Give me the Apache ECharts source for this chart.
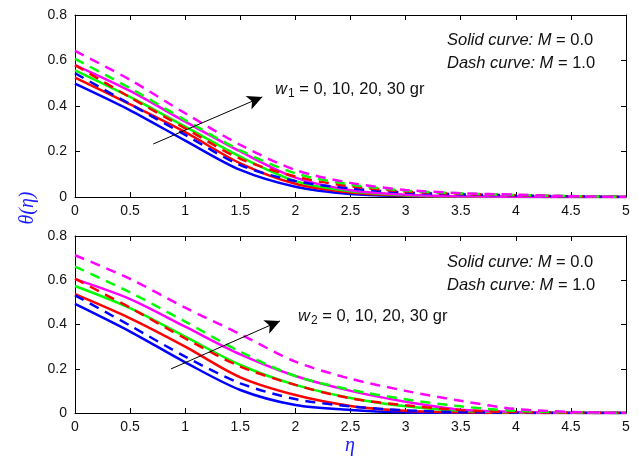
<!DOCTYPE html>
<html>
<head>
<meta charset="utf-8">
<script src="https://cdn.jsdelivr.net/npm/echarts@6/dist/echarts.min.js"></script>
<style>html,body{margin:0;padding:0;background:#fff;}#c{width:639px;height:459px;}</style>
</head>
<body>
<div id="c"></div>
<script>
const eta = [0, 0.5, 1, 1.5, 2, 2.5, 3, 3.5, 4, 4.5, 5];
const xTicks = ['0','0.5','1','1.5','2','2.5','3','3.5','4','4.5','5'];
const yTicks = ['0','0.2','0.4','0.6','0.8'];
const wLabels = ['0','10','20','30'];

// Top panel (w1), solid: M = 0.0
const topSolid0  = [0.498, 0.381, 0.248, 0.119, 0.045, 0.013, 0.004, 0.001, 0, 0, 0];
const topSolid10 = [0.525, 0.407, 0.285, 0.148, 0.058, 0.020, 0.006, 0.002, 0.001, 0, 0];
const topSolid20 = [0.557, 0.440, 0.309, 0.177, 0.070, 0.025, 0.008, 0.003, 0.001, 0, 0];
const topSolid30 = [0.580, 0.466, 0.331, 0.200, 0.085, 0.030, 0.010, 0.003, 0.001, 0, 0];
// Top panel, dashed: M = 1.0
const topDash0  = [0.544, 0.408, 0.273, 0.140, 0.070, 0.038, 0.020, 0.012, 0.007, 0.003, 0];
const topDash10 = [0.580, 0.438, 0.302, 0.168, 0.090, 0.047, 0.024, 0.014, 0.008, 0.003, 0];
const topDash20 = [0.607, 0.478, 0.338, 0.205, 0.104, 0.055, 0.028, 0.016, 0.009, 0.004, 0];
const topDash30 = [0.642, 0.515, 0.368, 0.229, 0.119, 0.062, 0.031, 0.017, 0.010, 0.004, 0];

// Bottom panel (w2), solid: M = 0.0
const botSolid0  = [0.493, 0.368, 0.229, 0.104, 0.036, 0.014, 0.003, 0.001, 0, 0, 0];
const botSolid10 = [0.537, 0.428, 0.300, 0.161, 0.081, 0.032, 0.010, 0.003, 0.001, 0, 0];
const botSolid20 = [0.574, 0.474, 0.345, 0.217, 0.127, 0.068, 0.030, 0.010, 0.003, 0.001, 0];
const botSolid30 = [0.605, 0.515, 0.390, 0.265, 0.167, 0.100, 0.051, 0.015, 0.005, 0.001, 0];
// Bottom panel, dashed: M = 1.0
const botDash0  = [0.532, 0.395, 0.255, 0.134, 0.063, 0.030, 0.012, 0.004, 0.001, 0, 0];
const botDash10 = [0.607, 0.476, 0.337, 0.210, 0.127, 0.066, 0.035, 0.013, 0.004, 0.001, 0];
const botDash20 = [0.662, 0.545, 0.413, 0.277, 0.167, 0.105, 0.062, 0.030, 0.010, 0.003, 0];
const botDash30 = [0.713, 0.606, 0.476, 0.356, 0.232, 0.155, 0.100, 0.055, 0.018, 0.005, 0];

const colors = ['#0000ff', '#ff0000', '#00ff00', '#ff00ff'];

const chart = echarts.init(document.getElementById('c'), null, {renderer: 'canvas'});

const grids = [
  {left: 75, right: 13, top: 15, height: 182},
  {left: 75, right: 13, top: 236, height: 177}
];

const xAxes = [], yAxes = [];
[0, 1].forEach(g => {
  const base = {
    type: 'value', gridIndex: g, min: 0, max: 5, interval: 0.5,
    axisLine: {show: true, onZero: false, lineStyle: {color: '#000', width: 1}},
    axisTick: {show: true, inside: true, length: 5, lineStyle: {color: '#000'}},
    splitLine: {show: false}
  };
  xAxes.push(Object.assign({}, base, {
    position: 'bottom',
    axisLabel: {show: true, color: '#111', fontFamily: 'Liberation Sans', fontSize: 14, margin: 7,
      formatter: v => xTicks[Math.round(v * 2)]}
  }));
  xAxes.push(Object.assign({}, base, {position: 'top', axisLabel: {show: false}}));
  const ybase = {
    type: 'value', gridIndex: g, min: 0, max: 0.8, interval: 0.2,
    axisLine: {show: true, onZero: false, lineStyle: {color: '#000', width: 1}},
    axisTick: {show: true, inside: true, length: 5, lineStyle: {color: '#000'}},
    splitLine: {show: false}
  };
  yAxes.push(Object.assign({}, ybase, {
    position: 'left',
    axisLabel: {show: true, color: '#111', fontFamily: 'Liberation Sans', fontSize: 14, margin: 8,
      formatter: v => yTicks[Math.round(v * 5)]}
  }));
  yAxes.push(Object.assign({}, ybase, {position: 'right', axisLabel: {show: false}}));
});

function mk(arr, gi, ci, dashed) {
  return {
    type: 'line', xAxisIndex: gi * 2, yAxisIndex: gi * 2,
    data: eta.map((x, i) => [x, arr[i]]),
    showSymbol: false, symbol: 'none', smooth: 0.3,
    silent: true, animation: false,
    lineStyle: {color: colors[ci], width: 2.5, type: dashed ? [10, 7] : 'solid'},
    z: dashed ? 3 : 2
  };
}

const series = [];
[topSolid0, topSolid10, topSolid20, topSolid30].forEach((a, i) => series.push(mk(a, 0, i, false)));
[topDash0, topDash10, topDash20, topDash30].forEach((a, i) => series.push(mk(a, 0, i, true)));
[botSolid0, botSolid10, botSolid20, botSolid30].forEach((a, i) => series.push(mk(a, 1, i, false)));
[botDash0, botDash10, botDash20, botDash30].forEach((a, i) => series.push(mk(a, 1, i, true)));

function arrow(gi, from, to) {
  return {
    type: 'line', xAxisIndex: gi * 2, yAxisIndex: gi * 2, data: [], silent: true, animation: false,
    markLine: {
      silent: true, animation: false,
      symbol: ['none', 'arrow'], symbolSize: [11, 15],
      label: {show: false},
      lineStyle: {color: '#000', width: 1, type: 'solid'},
      data: [[{coord: from}, {coord: to}]]
    },
    z: 5
  };
}
series.push(arrow(0, [0.71, 0.233], [1.70, 0.44]));
series.push(arrow(1, [0.87, 0.199], [1.86, 0.416]));

const annFont = 'Liberation Sans';
const rich = {
  i: {fontFamily: annFont, fontStyle: 'italic', fontSize: 16.5, color: '#111'},
  n: {fontFamily: annFont, fontSize: 16.5, color: '#111'},
  s: {fontFamily: annFont, fontSize: 12, color: '#111', padding: [10, 0, 0, 1]}
};
function txt(x, y, text) {
  return {type: 'text', x: x, y: y, silent: true,
    style: {text: text, rich: rich, fontFamily: annFont, fontSize: 16.5, fill: '#111', verticalAlign: 'middle', align: 'left'}};
}

const graphic = [
  txt(447, 40, '{i|Solid curve: M}{n| = 0.0}'),
  txt(447, 63, '{i|Dash curve: M}{n| = 1.0}'),
  txt(447, 262, '{i|Solid curve: M}{n| = 0.0}'),
  txt(447, 285, '{i|Dash curve: M}{n| = 1.0}'),
  txt(275, 89, '{i|w}{s|1}{n| = ' + wLabels.join(', ') + ' gr}'),
  txt(298, 316, '{i|w}{s|2}{n| = ' + wLabels.join(', ') + ' gr}'),
  {type: 'text', x: 28, y: 208, rotation: Math.PI / 2, silent: true,
    style: {text: 'θ(η)', fontFamily: 'Liberation Serif', fontStyle: 'italic', fontSize: 20, fill: '#1a1aff',
      align: 'center', verticalAlign: 'middle'}},
  {type: 'text', x: 350, y: 446, silent: true,
    style: {text: 'η', fontFamily: 'Liberation Serif', fontStyle: 'italic', fontSize: 20, fill: '#1a1aff',
      align: 'center', verticalAlign: 'middle'}}
];

chart.setOption({
  backgroundColor: '#fff',
  animation: false,
  grid: grids,
  xAxis: xAxes,
  yAxis: yAxes,
  series: series,
  graphic: graphic
});
</script>
</body>
</html>
